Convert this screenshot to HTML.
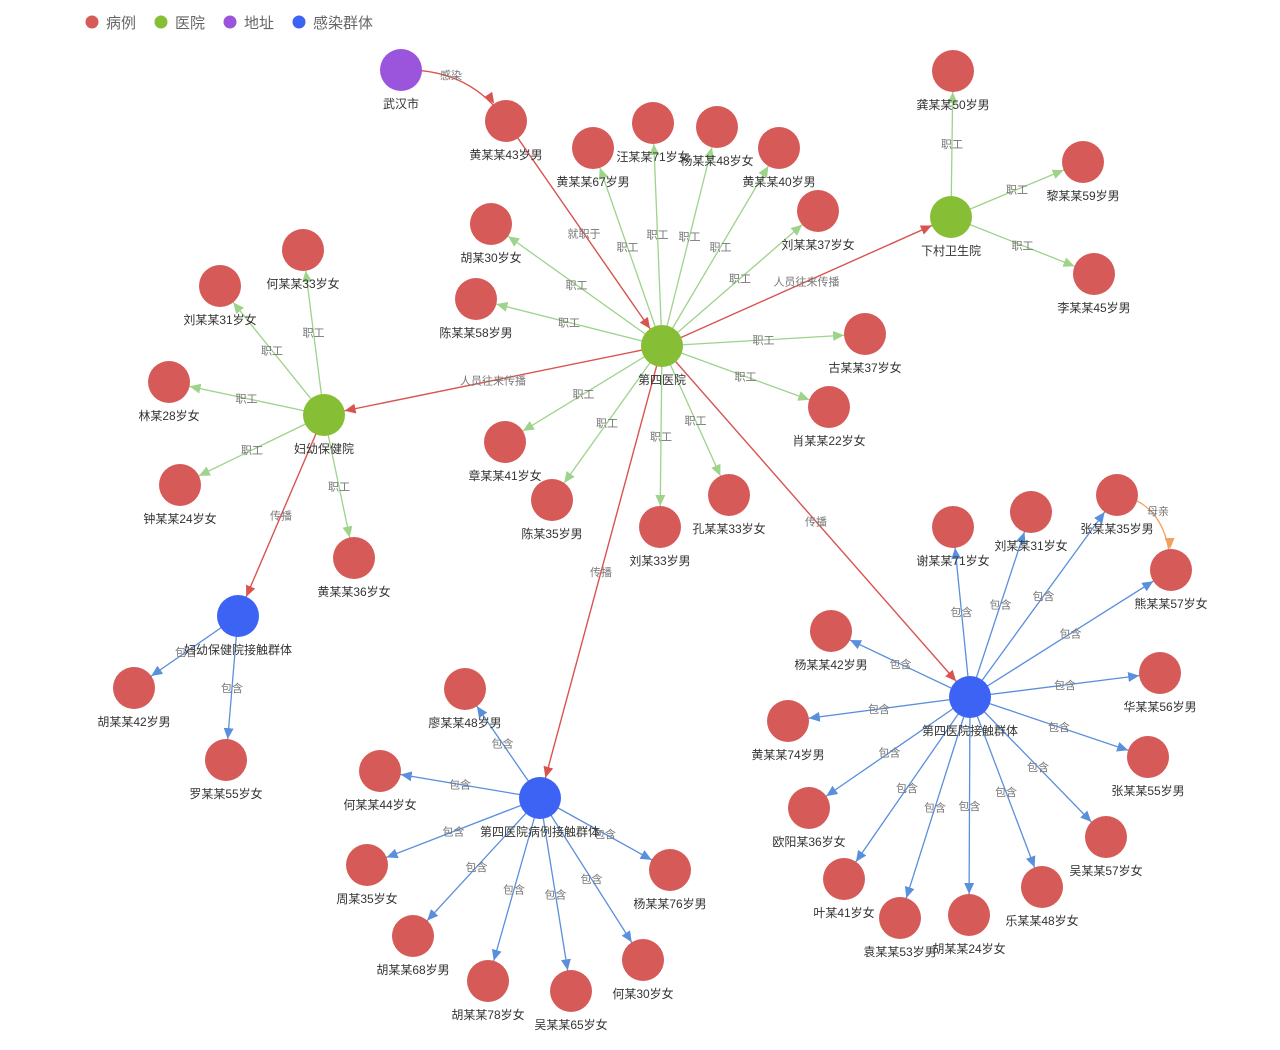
<!DOCTYPE html>
<html><head><meta charset="utf-8"><style>
html,body{margin:0;padding:0;background:#fff;width:1280px;height:1050px;overflow:hidden}
svg{display:block;font-family:"Liberation Sans","Noto Sans CJK SC",sans-serif}
</style></head><body>
<svg id="s" width="1280" height="1050" viewBox="0 0 1280 1050" xmlns="http://www.w3.org/2000/svg">
<defs>
<marker id="mg" markerUnits="userSpaceOnUse" markerWidth="14" markerHeight="10" refX="32" refY="5" orient="auto"><path d="M0,0 L11,5 L0,10 Z" fill="#9dd38a"/></marker>
<marker id="mr" markerUnits="userSpaceOnUse" markerWidth="14" markerHeight="10" refX="32" refY="5" orient="auto"><path d="M0,0 L11,5 L0,10 Z" fill="#d9534f"/></marker>
<marker id="mb" markerUnits="userSpaceOnUse" markerWidth="14" markerHeight="10" refX="32" refY="5" orient="auto"><path d="M0,0 L11,5 L0,10 Z" fill="#5a8fdb"/></marker>
<marker id="mo" markerUnits="userSpaceOnUse" markerWidth="14" markerHeight="10" refX="32" refY="5" orient="auto"><path d="M0,0 L11,5 L0,10 Z" fill="#f0a060"/></marker>
</defs>
<g id="legend" font-size="15" fill="#666">
<circle cx="92" cy="22" r="6.5" fill="#d65a58"/><text x="106" y="28">病例</text>
<circle cx="161" cy="22" r="6.5" fill="#86bf35"/><text x="175" y="28">医院</text>
<circle cx="230" cy="22" r="6.5" fill="#9b55dd"/><text x="244" y="28">地址</text>
<circle cx="299" cy="22" r="6.5" fill="#3d63f5"/><text x="313" y="28">感染群体</text>
</g>
<path d="M401,70 Q470,68 506,121" fill="none" stroke="#d9534f" stroke-width="1.3" marker-end="url(#mr)"/>
<text x="451" y="79" font-size="11" fill="#777" text-anchor="middle">感染</text>
<path d="M1117,495 Q1168,502 1171,570" fill="none" stroke="#f0a060" stroke-width="1.3" marker-end="url(#mo)"/>
<text x="1158" y="515" font-size="11" fill="#777" text-anchor="middle">母亲</text>
<g id="edges"></g>
<g id="nodes"></g>
</svg>
<script>
var N={
"武汉市":[401,70,"p"],"黄某某43岁男":[506,121,"r"],"第四医院":[662,346,"g"],"下村卫生院":[951,217,"g"],"妇幼保健院":[324,415,"g"],
"妇幼保健院接触群体":[238,616,"b"],"第四医院病例接触群体":[540,798,"b"],"第四医院接触群体":[970,697,"b"],
"黄某某67岁男":[593,148],"汪某某71岁女":[653,123],"杨某某48岁女":[717,127],"黄某某40岁男":[779,148],"刘某某37岁女":[818,211],
"胡某30岁女":[491,224],"陈某某58岁男":[476,299],"古某某37岁女":[865,334],"肖某某22岁女":[829,407],"章某某41岁女":[505,442],
"陈某35岁男":[552,500],"刘某33岁男":[660,527],"孔某某33岁女":[729,495],
"龚某某50岁男":[953,71],"黎某某59岁男":[1083,162],"李某某45岁男":[1094,274],
"何某某33岁女":[303,250],"刘某某31岁女":[220,286],"林某28岁女":[169,382],"钟某某24岁女":[180,485],"黄某某36岁女":[354,558],
"胡某某42岁男":[134,688],"罗某某55岁女":[226,760],
"廖某某48岁男":[465,689],"何某某44岁女":[380,771],"周某35岁女":[367,865],"胡某某68岁男":[413,936],"胡某某78岁女":[488,981],
"吴某某65岁女":[571,991],"何某30岁女":[643,960],"杨某某76岁男":[670,870],
"谢某某71岁女":[953,527],"刘某某31岁女 ":[1031,512],"张某某35岁男":[1117,495],"熊某某57岁女":[1171,570],"杨某某42岁男":[831,631],
"华某某56岁男":[1160,673],"黄某某74岁男":[788,721],"张某某55岁男":[1148,757],"欧阳某36岁女":[809,808],"吴某某57岁女":[1106,837],
"叶某41岁女":[844,879],"乐某某48岁女":[1042,887],"袁某某53岁男":[900,918],"胡某某24岁女":[969,915]};
var E=[];
["黄某某67岁男","汪某某71岁女","杨某某48岁女","黄某某40岁男","刘某某37岁女","胡某30岁女","陈某某58岁男","古某某37岁女","肖某某22岁女","章某某41岁女","陈某35岁男","刘某33岁男","孔某某33岁女"].forEach(function(n){E.push(["第四医院",n,"职工","g"])});
["龚某某50岁男","黎某某59岁男","李某某45岁男"].forEach(function(n){E.push(["下村卫生院",n,"职工","g"])});
["何某某33岁女","刘某某31岁女","林某28岁女","钟某某24岁女","黄某某36岁女"].forEach(function(n){E.push(["妇幼保健院",n,"职工","g"])});
["胡某某42岁男","罗某某55岁女"].forEach(function(n){E.push(["妇幼保健院接触群体",n,"包含","b"])});
["廖某某48岁男","何某某44岁女","周某35岁女","胡某某68岁男","胡某某78岁女","吴某某65岁女","何某30岁女","杨某某76岁男"].forEach(function(n){E.push(["第四医院病例接触群体",n,"包含","b"])});
["谢某某71岁女","刘某某31岁女 ","张某某35岁男","熊某某57岁女","杨某某42岁男","华某某56岁男","黄某某74岁男","张某某55岁男","欧阳某36岁女","吴某某57岁女","叶某41岁女","乐某某48岁女","袁某某53岁男","胡某某24岁女"].forEach(function(n){E.push(["第四医院接触群体",n,"包含","b"])});
E.push(["黄某某43岁男","第四医院","就职于","r"],["第四医院","下村卫生院","人员往来传播","r"],["第四医院","妇幼保健院","人员往来传播","r"],
["妇幼保健院","妇幼保健院接触群体","传播","r"],["第四医院","第四医院病例接触群体","传播","r"],["第四医院","第四医院接触群体","传播","r"]);
var C={g:"#9dd38a",r:"#d9534f",b:"#5a8fdb",p:"#9b55dd"};
var NC={r:"#d65a58",g:"#86bf35",b:"#3d63f5",p:"#9b55dd"};
var eh="",nh="";
E.forEach(function(e){var a=N[e[0]],b=N[e[1]];
eh+='<line x1="'+a[0]+'" y1="'+a[1]+'" x2="'+b[0]+'" y2="'+b[1]+'" stroke="'+C[e[3]]+'" stroke-width="'+(e[3]=="r"?1.4:1.3)+'" marker-end="url(#m'+e[3]+')"/>';
eh+='<text x="'+((a[0]+b[0])/2)+'" y="'+((a[1]+b[1])/2+4)+'" font-size="11" fill="#777" text-anchor="middle">'+e[2]+'</text>';});
for(var k in N){var n=N[k],t=n[2]||"r";
nh+='<circle cx="'+n[0]+'" cy="'+n[1]+'" r="21" fill="'+NC[t]+'"/>';
nh+='<text x="'+n[0]+'" y="'+(n[1]+38)+'" font-size="12" fill="#333" text-anchor="middle">'+k.trim()+'</text>';}
document.getElementById("edges").innerHTML=eh;
document.getElementById("nodes").innerHTML=nh;
</script>
</body></html>
